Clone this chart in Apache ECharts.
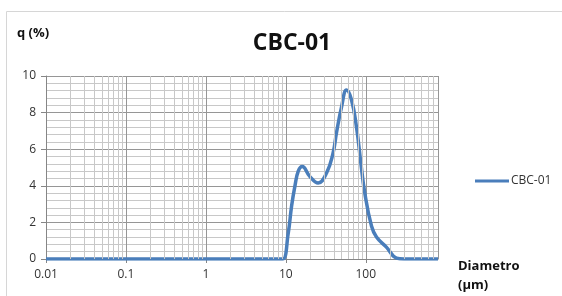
<!DOCTYPE html>
<html>
<head>
<meta charset="utf-8">
<script src="https://cdn.jsdelivr.net/npm/echarts@6/dist/echarts.min.js"></script>
<style>
  html, body { margin: 0; padding: 0; background: #fff; }
  #main { width: 562px; height: 296px; }
</style>
</head>
<body>
<div id="main"></div>
<script>
// diametro (um) vs q (%)
var diametro = [0.01, 1, 8, 9.2, 10.7, 11.8, 13.0, 14.3, 16.0, 20, 25.3, 32.3, 39, 43, 49.7, 57.4, 66.2, 76.5, 85.9, 97.2, 117.8, 136, 181, 242, 300, 800];
var q = [0, 0, 0, 0, 1.4, 2.9, 4.0, 4.8, 5.05, 4.5, 4.15, 4.7, 5.8, 6.9, 8.3, 9.23, 8.7, 7.2, 5.4, 3.6, 1.8, 1.2, 0.65, 0.05, 0, 0];
var decades = [0.01, 0.1, 1, 10, 100];
var xMax = 800;

var serieData = [];
for (var i = 0; i < diametro.length; i++) {
    serieData.push([diametro[i], q[i]]);
}

// minor log grid lines (2..9 in each decade)
var minorLines = [];
decades.forEach(function (d) {
    for (var k = 2; k <= 9; k++) {
        var v = d * k;
        if (v < xMax) minorLines.push({xAxis: v});
    }
});

var chart = echarts.init(document.getElementById('main'));
var font = '"Open Sans", "Liberation Sans", sans-serif';
chart.setOption({
    animation: false,
    textStyle: {fontFamily: font},
    title: {
        text: 'CBC-01',
        left: 287,
        top: 27,
        textAlign: 'center',
        textStyle: {fontSize: 23, fontWeight: 'bold', color: '#111', fontFamily: font}
    },
    graphic: [
        {type: 'rect', shape: {x: 6.5, y: 11.5, width: 600, height: 300}, style: {fill: 'none', stroke: '#d6d6d6', lineWidth: 1}, silent: true},
        {type: 'text', left: 17, top: 27, style: {text: 'q (%)', font: 'bold 13px ' + font, fill: '#111'}},
        {type: 'text', left: 458, top: 260, style: {text: 'Diametro', font: 'bold 13px ' + font, fill: '#111'}},
        {type: 'text', left: 458, top: 279, style: {text: '(\u00b5m)', font: 'bold 13px ' + font, fill: '#111'}}
    ],
    legend: {
        data: ['CBC-01'],
        left: 470,
        top: 170,
        itemWidth: 34,
        itemHeight: 3,
        itemGap: 2,
        icon: 'rect',
        textStyle: {fontSize: 12, color: '#333', fontFamily: font, padding: [0, 0, 0, -3]}
    },
    grid: {left: 46, right: 124, top: 76, bottom: 37, containLabel: false},
    xAxis: {
        type: 'log',
        logBase: 10,
        min: 0.01,
        max: xMax,
        axisLine: {show: true, lineStyle: {color: '#868686'}},
        axisTick: {show: true, length: 4, lineStyle: {color: '#868686'}},
        axisLabel: {
            fontSize: 12, color: '#333', margin: 10, showMaxLabel: false,
            formatter: function (v) { return String(v); }
        },
        splitLine: {show: true, lineStyle: {color: '#969696', width: 1}},
        minorTick: {show: false},
        minorSplitLine: {show: false}
    },
    yAxis: {
        type: 'value',
        min: 0,
        max: 10,
        interval: 2,
        axisLine: {show: true, lineStyle: {color: '#868686'}},
        axisTick: {show: true, length: 5, lineStyle: {color: '#868686'}},
        axisLabel: {fontSize: 12, color: '#333', margin: 10},
        splitLine: {show: true, lineStyle: {color: '#969696'}},
        minorTick: {show: false, splitNumber: 5},
        minorSplitLine: {show: true, lineStyle: {color: '#c8c8c8'}}
    },
    series: [
        {
            name: 'grid',
            type: 'line',
            data: [],
            z: 1,
            silent: true,
            markLine: {
                silent: true,
                symbol: 'none',
                label: {show: false},
                lineStyle: {color: '#c8c8c8', width: 1, type: 'solid'},
                data: minorLines
            }
        },
        {
            name: 'CBC-01',
            type: 'line',
            data: serieData,
            z: 3,
            smooth: 0.45,
            showSymbol: false,
            symbol: 'none',
            itemStyle: {color: '#4a7ebb'},
            lineStyle: {color: '#4a7ebb', width: 3.5}
        }
    ]
});
</script>
</body>
</html>
